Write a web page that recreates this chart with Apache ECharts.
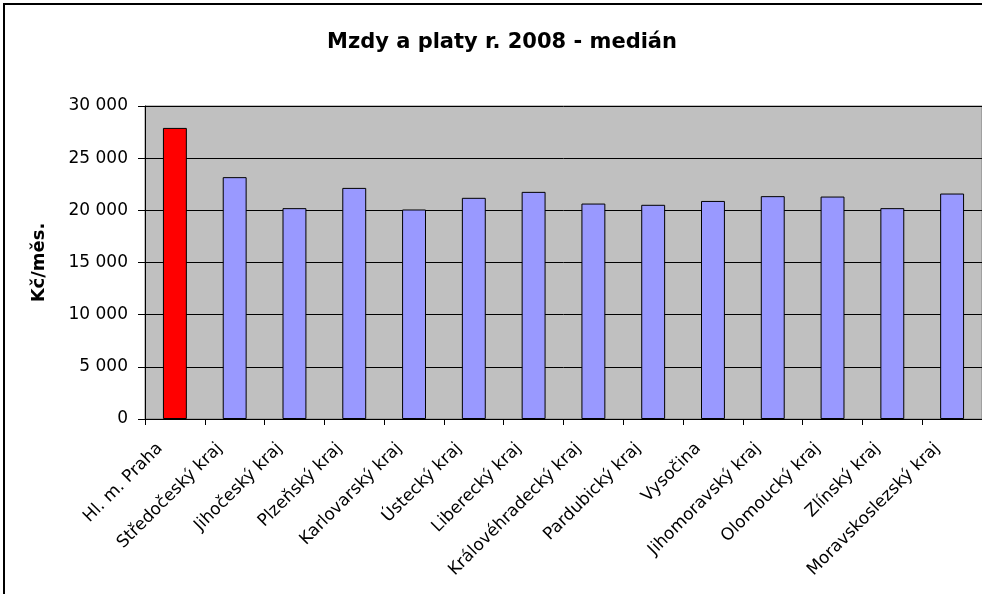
<!DOCTYPE html>
<html>
<head>
<meta charset="utf-8">
<script src="https://cdn.jsdelivr.net/npm/echarts@6/dist/echarts.min.js"></script>
<style>
  html, body { margin: 0; padding: 0; background: #fff; }
  #chart { width: 982px; height: 594px; }
</style>
</head>
<body>
<div id="chart"></div>
<script>
const categories = [
  "Hl. m. Praha", "Středočeský kraj", "Jihočeský kraj", "Plzeňský kraj",
  "Karlovarský kraj", "Ústecký kraj", "Liberecký kraj", "Královéhradecký kraj",
  "Pardubický kraj", "Vysočina", "Jihomoravský kraj", "Olomoucký kraj",
  "Zlínský kraj", "Moravskoslezský kraj"
];
const medianWage = [27900, 23180, 20210, 22150, 20080, 21200, 21770,
  20650, 20530, 20900, 21360, 21320, 20210, 21610];
const yTicks = [0, 5000, 10000, 15000, 20000, 25000, 30000];
const highlightIndex = 0;

// mezera jako oddělovač tisíců
const fmt = (v) => String(v).replace(/\B(?=(\d{3})+(?!\d))/g, " ");

let myChart = echarts.init(document.getElementById("chart"));
let option = {
  animation: false,
  backgroundColor: "#fff",
  textStyle: { fontFamily: "DejaVu Sans" },
  graphic: [
    {
      type: "rect",
      shape: { x: 4, y: 4, width: 1000, height: 700 },
      style: { fill: "none", stroke: "#000", lineWidth: 2 },
      silent: true,
      z: 100
    },
    {
      type: "text",
      x: 502,
      y: 43,
      style: {
        text: "Mzdy a platy r. 2008 - medián",
        fontFamily: "DejaVu Sans",
        fontWeight: "bold",
        fontSize: 21,
        fill: "#000",
        align: "center",
        verticalAlign: "middle"
      }
    }
  ],
  grid: {
    left: 145,
    top: 106,
    right: 0,
    bottom: 175,
    show: true,
    backgroundColor: "#C0C0C0",
    borderColor: "#808080",
    borderWidth: 1
  },
  xAxis: {
    type: "category",
    data: categories,
    axisLine: { lineStyle: { color: "#000", width: 1 } },
    axisTick: { show: true, length: 6, lineStyle: { color: "#000" } },
    axisLabel: {
      interval: 0,
      rotate: 45,
      margin: 12,
      padding: [0, 21, 6, 0],
      fontSize: 17,
      color: "#000",
      fontFamily: "DejaVu Sans"
    },
    splitLine: { show: false }
  },
  yAxis: {
    type: "value",
    min: yTicks[0],
    max: yTicks[yTicks.length - 1],
    interval: yTicks[1] - yTicks[0],
    name: "Kč/měs.",
    nameLocation: "middle",
    nameRotate: 90,
    nameGap: 97,
    nameTextStyle: {
      fontFamily: "DejaVu Sans",
      fontWeight: "bold",
      fontSize: 18,
      color: "#000"
    },
    axisLine: { show: true, lineStyle: { color: "#000", width: 1 } },
    axisTick: { show: true, length: 7, lineStyle: { color: "#000" } },
    axisLabel: {
      margin: 17,
      fontSize: 17,
      color: "#000",
      fontFamily: "DejaVu Sans",
      formatter: (v) => fmt(v)
    },
    splitLine: { show: true, lineStyle: { color: "#000", width: 1 } }
  },
  series: [
    {
      type: "bar",
      data: medianWage.map((v, i) => ({
        value: v,
        itemStyle: { color: i === highlightIndex ? "#FF0000" : "#9999FF" }
      })),
      barWidth: "40%",
      itemStyle: { borderColor: "#000", borderWidth: 1 }
    }
  ]
};
myChart.setOption(option);
</script>
</body>
</html>
